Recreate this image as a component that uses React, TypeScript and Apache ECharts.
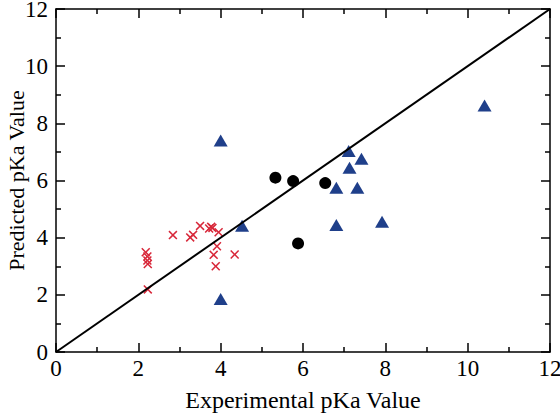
import React, { useEffect, useRef } from "react";
import * as echarts from "echarts";

const xTicks = [0, 2, 4, 6, 8, 10, 12];
const yTicks = [0, 2, 4, 6, 8, 10, 12];

const crossData: [number, number][] = [
  [2.18, 3.49], [2.22, 3.34], [2.22, 3.2], [2.23, 3.08], [2.23, 2.19],
  [2.84, 4.09], [3.26, 4.01], [3.33, 4.1], [3.5, 4.41], [3.72, 4.32],
  [3.77, 4.38], [3.8, 4.34], [3.95, 4.19], [3.91, 3.7], [3.83, 3.4],
  [4.34, 3.41], [3.88, 3.0],
];
const circleData: [number, number][] = [
  [5.33, 6.1], [5.76, 5.98], [6.54, 5.91], [5.88, 3.8],
];
const triangleData: [number, number][] = [
  [4.0, 7.4], [4.0, 1.85], [4.52, 4.42], [7.11, 7.03], [7.42, 6.76],
  [7.13, 6.45], [6.81, 5.75], [7.32, 5.75], [6.81, 4.44], [7.92, 4.56],
  [10.41, 8.62],
];
const identityLine: [number, number][] = [[0, 0], [12, 12]];

const FONT = "'Liberation Serif', 'DejaVu Serif', serif";
const crossPath =
  "path://M0,1.2L1.2,0L5,3.8L8.8,0L10,1.2L6.2,5L10,8.8L8.8,10L5,6.2L1.2,10L0,8.8L3.8,5Z";

export default function App() {
  const ref = useRef<HTMLDivElement>(null);
  useEffect(() => {
    if (!ref.current) return;
    const chart = echarts.init(ref.current, undefined, { renderer: "svg" });
    const axisLine = { show: true, onZero: false, lineStyle: { color: "#000", width: 1.5 } };
    const tick = { show: true, inside: true, length: 9, lineStyle: { color: "#000", width: 1.5 } };
    const minor = { show: true, splitNumber: 2, length: 5, lineStyle: { color: "#000", width: 1.5 } };
    const label = { color: "#000", fontFamily: FONT, fontSize: 23 };
    chart.setOption({
      animation: false,
      backgroundColor: "#fff",
      grid: {
        left: 56, right: 10, top: 9, bottom: 62,
        containLabel: false, outerBoundsMode: "none",
      },
      xAxis: [
        {
          type: "value", min: xTicks[0], max: xTicks[xTicks.length - 1], interval: 2,
          position: "bottom",
          name: "Experimental pKa Value", nameLocation: "middle", nameGap: 36,
          nameMoveOverlap: false,
          nameTextStyle: { color: "#000", fontFamily: FONT, fontSize: 24 },
          axisLine, axisTick: tick, minorTick: minor,
          axisLabel: { ...label, margin: 5 },
          splitLine: { show: false },
        },
        {
          type: "value", min: 0, max: 12, interval: 2, position: "top",
          axisLine, axisTick: tick, minorTick: minor,
          axisLabel: { show: false }, splitLine: { show: false },
        },
      ],
      yAxis: [
        {
          type: "value", min: yTicks[0], max: yTicks[yTicks.length - 1], interval: 2,
          position: "left",
          name: "Predicted pKa Value", nameLocation: "middle", nameGap: 29,
          nameMoveOverlap: false,
          nameTextStyle: { color: "#000", fontFamily: FONT, fontSize: 22 },
          axisLine, axisTick: tick, minorTick: minor,
          axisLabel: { ...label, margin: 8 },
          splitLine: { show: false },
        },
        {
          type: "value", min: 0, max: 12, interval: 2, position: "right",
          axisLine, axisTick: tick, minorTick: minor,
          axisLabel: { show: false }, splitLine: { show: false },
        },
      ],
      series: [
        {
          type: "line", data: identityLine, symbol: "none", silent: true,
          lineStyle: { color: "#000", width: 2 },
        },
        {
          type: "scatter", data: crossData, symbol: crossPath, symbolSize: 9,
          itemStyle: { color: "#d8283a", opacity: 1 },
        },
        {
          type: "scatter", data: circleData, symbol: "circle", symbolSize: 12,
          itemStyle: { color: "#000", opacity: 1 },
        },
        {
          type: "scatter", data: triangleData, symbol: "triangle", symbolSize: [14, 12],
          itemStyle: { color: "#1f3f8a", opacity: 1 },
        },
      ],
    });
    return () => chart.dispose();
  }, []);
  return <div ref={ref} style={{ width: 560, height: 414, position: "absolute", left: 0, top: 0 }} />;
}
